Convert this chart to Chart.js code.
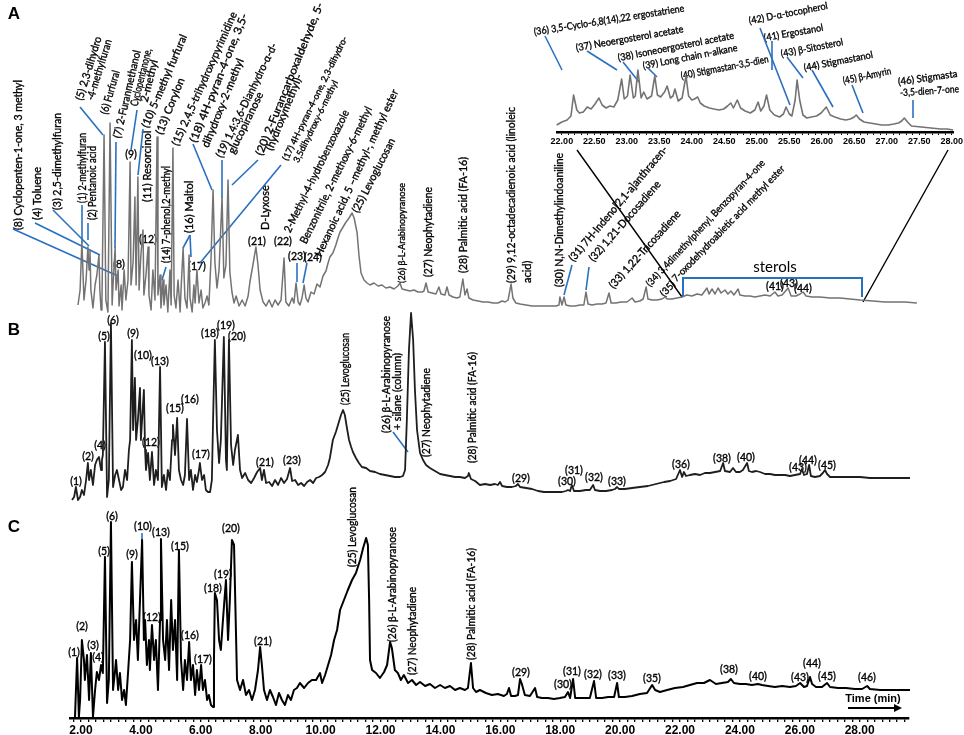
<!DOCTYPE html>
<html>
<head>
<meta charset="utf-8">
<script src="https://cdn.jsdelivr.net/npm/chart.js@4.4.1/dist/chart.umd.min.js"></script>
<style>
    html, body { margin: 0; padding: 0; background: #fff; overflow: hidden; }
    #wrap { position: relative; width: 964px; height: 735px; }
    #main { position: absolute; left: 0; top: 0; }
    #inset { position: absolute; left: 520px; top: 0; }
</style>
</head>
<body>
<div id="wrap">
    <canvas id="main" width="964" height="735"></canvas>
    <canvas id="inset" width="444" height="160"></canvas>
</div>
<script>
// chromatograms: [time (min), signal]
const traceA = [
    [1.90,13],[1.97,28],[2.03,76],[2.10,18],[2.17,38],[2.23,71],[2.27,48],[2.30,68],[2.33,28],[2.40,10],
    [2.47,33],[2.53,43],[2.60,63],[2.63,28],[2.67,8],[2.70,18],[2.77,183],[2.83,18],[2.90,6],[2.97,195],
    [3.04,13],[3.07,33],[3.14,70],[3.17,28],[3.24,48],[3.27,12],[3.34,33],[3.37,8],[3.44,48],[3.50,18],
    [3.57,38],[3.64,156],[3.67,33],[3.74,56],[3.80,121],[3.84,33],[3.90,141],[3.94,28],[4.00,63],[4.07,88],
    [4.10,23],[4.17,43],[4.24,71],[4.27,23],[4.34,8],[4.40,48],[4.47,18],[4.54,181],[4.57,23],[4.64,43],
    [4.67,10],[4.74,38],[4.77,13],[4.84,33],[4.90,6],[4.97,48],[5.01,13],[5.07,170],[5.11,23],[5.17,10],
    [5.24,38],[5.31,6],[5.34,28],[5.41,70],[5.47,20],[5.54,10],[5.61,63],[5.64,20],[5.71,6],[5.77,33],
    [5.81,15],[5.87,48],[5.94,15],[6.01,28],[6.07,10],[6.14,15],[6.21,22],[6.27,13],[6.34,58],[6.41,128],
    [6.47,56],[6.54,30],[6.61,48],[6.71,121],[6.77,40],[6.84,53],[6.91,138],[6.97,46],[7.04,26],[7.11,15],
    [7.18,22],[7.28,12],[7.38,18],[7.48,12],[7.58,22],[7.64,36],[7.74,53],[7.84,71],[7.91,53],[7.98,28],
    [8.08,16],[8.18,12],[8.28,18],[8.38,11],[8.48,18],[8.58,13],[8.68,18],[8.78,60],[8.84,16],[8.94,12],
    [9.05,20],[9.11,15],[9.18,35],[9.25,16],[9.31,13],[9.38,20],[9.45,33],[9.51,20],[9.58,16],[9.68,26],
    [9.78,24],[9.88,34],[9.98,31],[10.08,42],[10.18,47],[10.25,55],[10.31,61],[10.41,65],[10.51,73],[10.58,80],
    [10.65,86],[10.75,91],[10.85,96],[10.95,100],[11.05,105],[11.12,100],[11.22,85],[11.28,63],[11.35,45],[11.45,38],
    [11.55,35],[11.65,33],[11.78,35],[11.92,32],[12.05,33],[12.18,30],[12.32,31],[12.45,29],[12.58,32],[12.65,35],
    [12.72,29],[12.85,28],[12.98,27],[13.12,28],[13.25,26],[13.39,26],[13.45,27],[13.52,35],[13.59,26],[13.72,25],
    [13.85,24],[13.95,31],[14.02,24],[14.15,23],[14.22,31],[14.29,23],[14.42,21],[14.55,20],[14.65,21],[14.75,39],
    [14.82,23],[14.89,29],[14.95,20],[15.09,18],[15.26,17],[15.42,16],[15.59,16],[15.76,15],[15.92,15],[16.06,17],
    [16.16,16],[16.26,18],[16.36,34],[16.42,20],[16.52,15],[16.66,14],[16.86,13],[17.06,12],[17.26,12],[17.46,12],
    [17.66,12],[17.86,12],[17.96,13],[17.99,21],[18.06,13],[18.13,21],[18.19,13],[18.33,12],[18.50,12],[18.66,13],
    [18.79,13],[18.86,26],[18.93,14],[19.06,13],[19.23,14],[19.40,14],[19.53,15],[19.63,25],[19.70,15],[19.86,15],
    [20.03,16],[20.23,16],[20.40,20],[20.50,16],[20.66,17],[20.77,19],[20.87,31],[20.93,19],[21.07,18],[21.23,18],
    [21.40,19],[21.50,21],[21.57,19],[21.73,19],[21.90,20],[22.07,21],[22.23,23],[22.40,22],[22.57,24],[22.73,23],
    [22.90,30],[22.97,24],[23.07,29],[23.17,24],[23.27,30],[23.37,25],[23.50,28],[23.60,24],[23.70,27],[23.80,23],
    [23.94,29],[24.00,23],[24.17,22],[24.34,22],[24.50,21],[24.67,22],[24.84,23],[25.01,22],[25.17,26],[25.27,22],
    [25.41,23],[25.61,30],[25.71,22],[25.87,22],[26.01,24],[26.11,26],[26.21,22],[26.41,21],[26.67,21],[27.01,20],
    [27.34,20],[27.68,19],[28.01,18],[28.44,17],[28.84,16],[29.18,16],[29.51,16],[29.91,15]
];

const traceB = [
    [1.70,5],[1.77,8],[1.83,18],[1.90,5],[1.97,8],[2.03,15],[2.10,10],[2.17,25],[2.23,42],[2.27,25],
    [2.33,35],[2.40,20],[2.47,40],[2.53,45],[2.60,48],[2.67,35],[2.70,45],[2.73,50],[2.80,163],[2.87,8],
    [2.93,25],[3.00,182],[3.07,18],[3.14,30],[3.20,35],[3.27,25],[3.34,15],[3.40,18],[3.47,35],[3.54,25],
    [3.60,55],[3.64,65],[3.70,165],[3.74,75],[3.80,127],[3.84,65],[3.90,85],[3.97,117],[4.00,65],[4.04,85],
    [4.10,115],[4.14,55],[4.17,35],[4.24,52],[4.30,25],[4.37,53],[4.44,20],[4.50,35],[4.57,25],[4.64,138],
    [4.70,18],[4.77,30],[4.84,15],[4.90,35],[4.97,25],[5.04,65],[5.07,80],[5.14,50],[5.21,87],[5.27,35],
    [5.34,25],[5.41,20],[5.47,30],[5.54,86],[5.61,25],[5.67,35],[5.74,15],[5.81,30],[5.87,23],[5.94,35],
    [5.97,42],[6.04,25],[6.11,30],[6.17,15],[6.24,13],[6.31,13],[6.37,25],[6.41,85],[6.47,165],[6.54,75],
    [6.61,42],[6.67,65],[6.77,168],[6.84,45],[6.87,35],[6.94,165],[7.01,60],[7.08,40],[7.14,55],[7.24,70],
    [7.31,35],[7.38,27],[7.48,32],[7.58,25],[7.68,22],[7.78,27],[7.88,33],[7.98,37],[8.04,25],[8.11,35],
    [8.18,22],[8.28,23],[8.38,19],[8.48,25],[8.58,20],[8.68,27],[8.78,22],[8.88,26],[8.98,37],[9.05,24],
    [9.15,25],[9.25,20],[9.35,22],[9.45,19],[9.55,23],[9.65,25],[9.75,22],[9.85,27],[9.95,28],[10.05,30],
    [10.15,33],[10.25,40],[10.31,47],[10.41,65],[10.51,73],[10.61,83],[10.68,90],[10.75,95],[10.81,90],[10.88,77],
    [10.95,65],[11.02,58],[11.08,53],[11.18,47],[11.28,42],[11.38,38],[11.52,37],[11.65,34],[11.82,33],[11.98,31],
    [12.15,30],[12.32,29],[12.48,28],[12.65,28],[12.75,29],[12.82,35],[12.88,85],[12.95,155],[13.02,192],[13.09,165],
    [13.15,115],[13.22,75],[13.32,52],[13.42,45],[13.52,40],[13.65,37],[13.82,34],[13.99,31],[14.15,30],[14.32,29],
    [14.49,28],[14.65,28],[14.82,27],[14.92,29],[14.95,32],[15.02,26],[15.16,24],[15.32,20],[15.49,21],[15.66,20],
    [15.82,21],[15.92,20],[15.99,23],[16.06,19],[16.22,18],[16.39,18],[16.52,19],[16.59,21],[16.66,18],[16.86,17],
    [17.06,16],[17.26,14],[17.46,13],[17.66,13],[17.86,13],[18.06,13],[18.19,14],[18.26,15],[18.33,14],[18.39,20],
    [18.46,14],[18.66,14],[18.86,15],[18.99,15],[19.10,20],[19.16,15],[19.33,14],[19.53,14],[19.73,15],[19.83,16],
    [19.90,18],[19.96,16],[20.16,16],[20.40,17],[20.66,18],[20.93,19],[21.20,21],[21.47,23],[21.67,24],[21.87,26],
    [22.00,35],[22.07,28],[22.13,33],[22.20,29],[22.33,30],[22.50,31],[22.67,30],[22.83,32],[23.00,32],[23.17,33],
    [23.34,34],[23.44,42],[23.50,34],[23.67,33],[23.77,37],[23.87,33],[24.00,33],[24.10,35],[24.24,42],[24.30,34],
    [24.40,33],[24.54,34],[24.67,33],[24.84,31],[25.01,31],[25.17,30],[25.34,30],[25.51,30],[25.67,29],[25.84,30],
    [26.01,31],[26.07,36],[26.14,30],[26.24,31],[26.31,40],[26.37,29],[26.51,28],[26.67,29],[26.77,32],[26.84,35],
    [26.91,31],[27.01,28],[27.34,28],[27.68,28],[28.01,28],[28.34,27],[28.68,27],[29.01,27],[29.35,27],[29.68,27],
    [29.85,27]
];

const traceC = [
    [1.80,1],[1.87,60],[1.93,1],[1.97,18],[2.03,78],[2.10,58],[2.13,38],[2.20,63],[2.27,18],[2.33,65],
    [2.40,1],[2.47,28],[2.53,46],[2.60,38],[2.67,53],[2.73,45],[2.80,161],[2.87,15],[2.93,38],[3.00,196],
    [3.07,28],[3.14,48],[3.17,58],[3.24,28],[3.30,45],[3.37,18],[3.44,28],[3.50,13],[3.57,45],[3.64,78],
    [3.70,156],[3.77,78],[3.84,98],[3.90,58],[3.97,118],[4.04,178],[4.10,78],[4.14,98],[4.20,53],[4.27,78],
    [4.30,48],[4.37,93],[4.44,58],[4.50,78],[4.57,28],[4.64,98],[4.67,179],[4.74,78],[4.81,58],[4.87,98],
    [4.94,48],[5.01,118],[5.07,68],[5.14,98],[5.21,38],[5.27,168],[5.34,58],[5.41,28],[5.47,58],[5.54,38],
    [5.61,76],[5.67,38],[5.74,53],[5.81,23],[5.87,48],[5.94,28],[6.01,53],[6.07,28],[6.14,38],[6.21,18],
    [6.27,23],[6.34,13],[6.41,11],[6.44,58],[6.47,125],[6.54,118],[6.61,78],[6.67,68],[6.74,98],[6.84,138],
    [6.91,78],[6.97,118],[7.04,178],[7.11,173],[7.18,78],[7.21,38],[7.31,28],[7.41,38],[7.51,23],[7.61,28],
    [7.71,18],[7.81,28],[7.91,48],[7.98,71],[8.04,53],[8.11,28],[8.21,18],[8.31,28],[8.41,21],[8.51,13],
    [8.61,25],[8.71,18],[8.81,13],[8.91,23],[9.01,18],[9.11,28],[9.21,30],[9.31,35],[9.45,30],[9.58,35],
    [9.71,38],[9.85,38],[9.98,45],[10.05,35],[10.15,43],[10.25,53],[10.35,63],[10.45,78],[10.55,88],[10.65,108],
    [10.78,118],[10.91,128],[11.05,138],[11.18,145],[11.32,158],[11.42,170],[11.52,180],[11.58,173],[11.62,118],[11.65,58],
    [11.72,48],[11.85,45],[11.98,40],[12.12,46],[12.22,53],[12.32,76],[12.38,70],[12.48,48],[12.58,45],[12.68,38],
    [12.78,43],[12.92,35],[13.05,38],[13.19,33],[13.32,36],[13.49,32],[13.65,34],[13.82,30],[13.99,33],[14.15,30],
    [14.32,32],[14.49,28],[14.65,30],[14.82,28],[14.92,30],[15.02,55],[15.09,30],[15.19,26],[15.32,28],[15.52,25],
    [15.72,23],[15.92,24],[16.12,22],[16.22,24],[16.29,30],[16.36,22],[16.49,22],[16.59,23],[16.66,39],[16.72,34],
    [16.82,23],[16.99,22],[17.16,30],[17.23,21],[17.39,20],[17.59,20],[17.79,19],[17.99,20],[18.16,21],[18.26,26],
    [18.33,20],[18.43,39],[18.50,20],[18.66,20],[18.86,20],[18.99,20],[19.13,37],[19.20,20],[19.40,20],[19.60,21],
    [19.80,21],[19.90,35],[19.96,21],[20.16,21],[20.40,22],[20.66,24],[20.90,25],[21.07,33],[21.17,28],[21.33,26],
    [21.57,28],[21.83,30],[22.10,31],[22.33,33],[22.57,35],[22.80,35],[23.00,38],[23.20,34],[23.40,35],[23.60,36],
    [23.70,39],[23.80,35],[24.00,34],[24.20,34],[24.40,33],[24.60,34],[24.74,33],[24.94,32],[25.17,31],[25.41,32],
    [25.67,31],[25.87,32],[26.01,35],[26.14,31],[26.24,32],[26.34,41],[26.41,34],[26.54,31],[26.74,31],[26.91,35],
    [27.01,31],[27.28,30],[27.54,30],[27.84,29],[28.08,29],[28.25,32],[28.34,29],[28.68,28],[29.01,28],[29.35,28],
    [29.68,28],[29.85,28]
];

// enlarged sterol region of A
const traceInset = [
    [21.92,7],[22.00,10],[22.08,12],[22.14,16],[22.18,37],[22.23,22],[22.27,19],[22.33,20],[22.39,25],[22.45,23],
    [22.51,28],[22.57,34],[22.62,27],[22.68,24],[22.74,26],[22.80,25],[22.86,32],[22.92,53],[22.96,33],[23.01,36],
    [23.05,57],[23.10,34],[23.13,36],[23.17,62],[23.22,34],[23.26,40],[23.31,33],[23.38,36],[23.43,56],[23.47,37],
    [23.52,35],[23.58,40],[23.62,46],[23.67,34],[23.71,36],[23.74,43],[23.79,31],[23.85,34],[23.91,56],[23.95,36],
    [24.00,32],[24.04,33],[24.09,35],[24.13,29],[24.19,26],[24.27,24],[24.34,23],[24.42,22],[24.49,23],[24.55,26],
    [24.60,29],[24.64,24],[24.70,32],[24.75,24],[24.82,21],[24.90,19],[24.97,22],[25.02,30],[25.06,21],[25.11,26],
    [25.15,37],[25.20,22],[25.27,17],[25.35,15],[25.41,18],[25.45,25],[25.50,18],[25.54,16],[25.59,32],[25.62,52],
    [25.66,32],[25.71,17],[25.77,14],[25.84,15],[25.92,16],[25.99,19],[26.07,25],[26.13,17],[26.20,15],[26.29,13],
    [26.37,12],[26.44,13],[26.50,15],[26.53,17],[26.58,13],[26.65,10],[26.74,9],[26.83,8],[26.92,7],[27.02,7],
    [27.11,8],[27.18,9],[27.23,11],[27.27,14],[27.32,10],[27.38,6],[27.53,5],[27.68,4],[27.83,3],[27.93,3],
    [28.02,2]
];

// peak labels: [text, x, y, angle, font size, stretched length]
const namesA = [
    ["(8) Cyclopenten-1-one, 3 methyl", 18, 230, 90, 11, 150],
    ["(4) Toluene", 37, 220, 90, 11, 0],
    ["(3) 2,5-dimethylfuran", 57, 210, 90, 11, 97],
    ["(1) 2-methylfuran", 82, 203, 90, 11, 70],
    ["(2) Pentanoic acid", 92, 220, 90, 11, 74],
    ["(5) 2,3-dihydro", 79, 100, 73, 11, 66],
    ["-4-methylfuran", 90, 100, 73, 11, 63],
    ["(6) Furfural", 104, 114, 74, 11, 45],
    ["(7) 2-Furanmethanol", 117, 138, 77, 11, 90],
    ["Cyclopentanone,", 134, 106, 76, 11, 59],
    ["2-methyl", 144, 102, 76, 11, 0],
    ["(10) 5-methyl furfural", 145, 127, 67, 11, 100],
    ["(13) Corylon", 159, 134, 68, 11, 60],
    ["(11) Resorcinol", 147, 202, 90, 11, 0],
    ["(14) 7-phenol,2-methyl", 166, 263, 90, 11, 97],
    ["(15) 2,4,5-trihydroxypyrimidine", 175, 145, 66, 11, 145],
    ["(16) Maltol", 189, 233, 90, 11, 0],
    ["(18) 4H-pyran-4-one, 3,5-", 193, 142, 68, 11, 138],
    ["dihydroxy-2-methyl", 205, 147, 68, 11, 0],
    ["(19) 1,4:3,6-Dianhydro-α-d-", 219, 157, 64, 11, 126],
    ["glucopiranose", 231, 153, 64, 11, 0],
    ["(20) 2-Furancarboxaldehyde, 5-", 259, 155, 68, 11, 164],
    ["(hydroxymethyl)-", 269, 150, 68, 11, 0],
    ["(17) 4H-pyran-4-one, 2,3-dihydro-", 285, 160, 64, 9, 137],
    ["3,5dihydroxy-6-methyl", 296, 162, 64, 9, 0],
    ["D-Lyxose", 265, 230, 90, 11, 0],
    ["2-Methyl-4-hydrobenzoxazole", 287, 232, 64, 11, 135],
    ["Benzonitrile, 2-methoxy-6-methyl", 303, 243, 64, 11, 151],
    ["Hexanoic acid, 5 –methyl-, methyl ester", 318, 256, 65, 11, 183],
    ["(25) Levoglucosan", 355, 212, 63, 11, 82],
    ["(26) β-L-Arabinopyranose", 402, 283, 90, 9, 100],
    ["(27) Neophytadiene", 428, 277, 90, 11, 90],
    ["(28) Palmitic acid (FA-16)", 463, 273, 90, 11, 116],
    ["(29) 9,12-octadecadienoic acid (linoleic", 511, 283, 90, 11, 176],
    ["acid)", 527, 283, 90, 11, 0],
    ["(30) N,N-Dimethylindoaniline", 559, 287, 90, 11, 134],
    ["(31) 7H-Indeno[2,1-a]anthracen-", 571, 260, 50, 11, 147],
    ["(32) 1,21-Docosadiene", 591, 260, 49, 11, 103],
    ["(33) 1,22-Tricosadiene", 611, 287, 48, 11, 101],
    ["(34) 3,4dimethylphenyl, Benzopyran-4-one", 648, 285, 47, 10, 169],
    ["(35)", 662, 295, 47, 10, 0],
    ["7-oxodehydroabietic acid methyl ester", 674, 280, 46, 10, 157]
];

const namesInset = [
    ["(36) 3,5-Cyclo-6,8(14),22 ergostatriene", 534, 32, 9, 10, 152],
    ["(37) Neoergosterol acetate", 576, 48, 10, 10, 109],
    ["(38) Isoneoergosterol acetate", 618, 58, 11, 10, 118],
    ["(39) Long chain n-alkane", 643, 66, 11, 10, 96],
    ["(40) Stigmastan-3,5-dien", 681, 76, 11, 10, 89],
    ["(42) D-α-tocopherol", 749, 21, 11, 10, 80],
    ["(41) Ergostanol", 764, 38, 10, 10, 60],
    ["(43) β-Sitosterol", 781, 54, 11, 10, 63],
    ["(44) Stigmastanol", 804, 68, 11, 10, 70],
    ["(45) β-Amyrin", 843, 81, 12, 10, 49],
    ["(46) Stigmasta", 898, 82, 8, 10, 60],
    ["-3,5-dien-7-one", 900, 93, 4, 10, 59]
];

const namesBC = [
    ["(25) Levoglucosan", 345, 405, 90, 11, 72],
    ["(26) β-L-Arabinopyranose", 386, 433, 90, 11, 117],
    ["+ silane (column)", 397, 430, 90, 11, 77],
    ["(27) Neophytadiene", 426, 457, 90, 11, 89],
    ["(28) Palmitic acid (FA-16)", 472, 463, 90, 11, 111],
    ["(25) Levoglucosan", 352, 567, 90, 11, 80],
    ["(26) β-L-Arabinopyranose", 392, 642, 90, 11, 115],
    ["(27) Neophytadiene", 412, 675, 90, 11, 88],
    ["(28) Palmitic acid (FA-16)", 471, 660, 90, 11, 112]
];

// short peak numbers [text, centre x, centre y]
const tagsA = [
    ["(9)",131,155],["(12)",148,240],["(17)",197,267],["(8)",119,265],["(21)",257,242],["(22)",283,242],
    ["(23)",297,257],["(24)",313,258],["(41)",775,287],["(43)",789,284],["(44)",803,289]
];
const tagsB = [
    ["(1)",76,482],["(2)",88,457],["(4)",100,446],["(5)",104,337],["(6)",113,321],["(9)",133,334],
    ["(10)",143,356],["(13)",160,362],["(12)",151,443],["(15)",175,409],["(16)",190,400],["(17)",201,455],
    ["(18)",210,334],["(19)",226,326],["(20)",237,337],["(21)",265,463],["(23)",292,461],["(29)",521,479],
    ["(30)",567,482],["(31)",574,471],["(32)",594,478],["(33)",617,482],["(36)",681,465],["(38)",722,459],
    ["(40)",746,458],["(43)",798,468],["(44)",808,461],["(45)",827,466]
];
const tagsC = [
    ["(1)",74,653],["(2)",82,627],["(3)",93,646],["(4)",98,658],["(5)",104,552],["(6)",112,517],
    ["(9)",132,555],["(10)",143,527],["(13)",161,533],["(12)",152,618],["(15)",180,547],["(16)",190,636],
    ["(17)",203,660],["(18)",213,589],["(19)",223,575],["(20)",231,529],["(21)",263,642],["(29)",521,673],
    ["(30)",563,685],["(31)",572,672],["(32)",593,675],["(33)",617,676],["(35)",652,679],["(38)",729,670],
    ["(40)",758,677],["(43)",800,678],["(44)",812,664],["(45)",827,677],["(46)",867,678]
];

// blue leader lines [x1, y1, x2, y2]
const leaders = [
    [13,229,118,276],[35,223,100,255],[53,210,89,246],[82,205,82,243],[88,223,88,240],[80,107,103,135],
    [116,142,115,248],[137,110,131,150],[143,129,138,175],[166,267,162,280],[190,235,183,248],[190,235,191,257],
    [193,144,212,190],[222,160,222,198],[258,160,232,185],[281,165,200,263],[297,263,297,282],[307,263,303,283],
    [572,265,564,295],[589,267,586,290],
    [545,36,562,70],[587,51,617,70],[623,62,639,82],[648,68,657,77],[760,28,790,105],[772,41,772,70],
    [787,57,803,78],[812,70,833,107],[852,85,863,113],[913,100,913,118],
    [393,432,408,452],[142,533,142,552]
];

const LABEL_FONT = 'Lato, "Open Sans", sans-serif';
const BLUE = '#2a70c0';

// regular face with a hairline stroke, to get the darker look of the figure text
function inkText(ctx, text) {
    ctx.fillText(text, 0, 0);
    ctx.strokeText(text, 0, 0);
}

function drawNames(ctx, list) {
    list.forEach(([text, x, y, angle, size, len]) => {
        ctx.save();
        ctx.font = size + 'px ' + LABEL_FONT;
        ctx.fillStyle = '#000';
        ctx.strokeStyle = '#000';
        ctx.lineWidth = 0.35;
        ctx.textBaseline = 'middle';
        ctx.translate(x, y);
        if (angle) {
            ctx.rotate(-angle * Math.PI / 180);
            ctx.textAlign = 'left';
        } else {
            ctx.textAlign = 'center';
        }
        if (len) {
            ctx.scale(len / ctx.measureText(text).width, 1);
        }
        inkText(ctx, text);
        ctx.restore();
    });
}

function drawTags(ctx, list) {
    list.forEach(([text, x, y]) => {
        ctx.save();
        ctx.font = '10.5px ' + LABEL_FONT;
        ctx.fillStyle = '#000';
        ctx.strokeStyle = '#000';
        ctx.lineWidth = 0.35;
        ctx.textAlign = 'center';
        ctx.textBaseline = 'middle';
        ctx.translate(x, y);
        inkText(ctx, text);
        ctx.restore();
    });
}

const annotationPlugin = {
    id: 'annotations',
    beforeDatasetsDraw(chart) {
        const ctx = chart.ctx;
        drawNames(ctx, namesA);
        drawNames(ctx, namesInset);
        drawNames(ctx, namesBC);
        drawTags(ctx, tagsA);
        drawTags(ctx, tagsB);
        drawTags(ctx, tagsC);

        ctx.save();
        ctx.fillStyle = '#000';
        ctx.font = '15px ' + LABEL_FONT;
        ctx.textAlign = 'center';
        ctx.textBaseline = 'middle';
        ctx.fillText('sterols', 775, 267);

        ctx.strokeStyle = BLUE;
        ctx.lineWidth = 1.6;
        leaders.forEach(([x1, y1, x2, y2]) => {
            ctx.beginPath();
            ctx.moveTo(x1, y1);
            ctx.lineTo(x2, y2);
            ctx.stroke();
        });

        // sterols bracket
        ctx.lineWidth = 2;
        ctx.beginPath();
        ctx.moveTo(683, 297);
        ctx.lineTo(683, 278);
        ctx.lineTo(862, 278);
        ctx.lineTo(862, 297);
        ctx.stroke();

        // zoom lines to the inset
        ctx.strokeStyle = '#000';
        ctx.lineWidth = 1.4;
        ctx.beginPath();
        ctx.moveTo(577, 150);
        ctx.lineTo(682, 297);
        ctx.moveTo(948, 150);
        ctx.lineTo(863, 302);
        ctx.stroke();

        // panel letters
        ctx.font = 'bold 17px "Liberation Sans", Arial, sans-serif';
        ctx.fillText('A', 14, 14);
        ctx.fillText('B', 14, 330);
        ctx.fillText('C', 14, 527);

        // time arrow
        ctx.font = 'bold 11px "Liberation Sans", Arial, sans-serif';
        ctx.fillText('Time (min)', 873, 699);
        ctx.lineWidth = 2;
        ctx.beginPath();
        ctx.moveTo(848, 708);
        ctx.lineTo(895, 708);
        ctx.stroke();
        ctx.beginPath();
        ctx.moveTo(902, 708);
        ctx.lineTo(894, 704);
        ctx.lineTo(894, 712);
        ctx.closePath();
        ctx.fill();
        ctx.restore();
    }
};

function toPoints(trace) {
    return trace.map(([x, y]) => ({ x: x, y: y }));
}

const lineStyle = {
    pointRadius: 0,
    tension: 0,
    fill: false,
    clip: false,
    borderJoinStyle: 'round'
};

const mainConfig = {
    type: 'line',
    data: {
        datasets: [
            { ...lineStyle, label: 'A', data: toPoints(traceA), yAxisID: 'yA', borderColor: '#737373', borderWidth: 1.5 },
            { ...lineStyle, label: 'B', data: toPoints(traceB), yAxisID: 'yB', borderColor: '#1e1e1e', borderWidth: 1.8 },
            { ...lineStyle, label: 'C', data: toPoints(traceC), yAxisID: 'yC', borderColor: '#000000', borderWidth: 2 }
        ]
    },
    options: {
        responsive: false,
        animation: false,
        events: [],
        layout: { padding: { left: 70, right: 55, top: 0, bottom: 0 } },
        scales: {
            x: {
                type: 'linear',
                position: 'bottom',
                min: 1.633,
                max: 29.646,
                afterFit: (scale) => { scale.height = 17; },
                border: { display: true, color: '#000', width: 2.5 },
                grid: { drawOnChartArea: false, drawTicks: true, tickLength: 4, color: '#000', lineWidth: 1.3 },
                ticks: {
                    stepSize: 0.25,
                    autoSkip: false,
                    maxRotation: 0,
                    includeBounds: false,
                    padding: 1,
                    color: '#000',
                    font: { family: '"Liberation Sans", Arial, sans-serif', size: 12, weight: 'bold' },
                    callback: (v) => (Math.abs(v / 2 - Math.round(v / 2)) < 1e-6 ? v.toFixed(2) : '')
                }
            },
            yA: { display: false, min: -400, max: 318 },
            yB: { display: false, min: -213, max: 505 },
            yC: { display: false, min: 0, max: 718 }
        },
        plugins: {
            legend: { display: false },
            tooltip: { enabled: false },
            title: { display: false }
        }
    },
    plugins: [annotationPlugin]
};

const insetConfig = {
    type: 'line',
    data: {
        datasets: [
            { ...lineStyle, label: 'sterols', data: toPoints(traceInset), borderColor: '#737373', borderWidth: 1.6 }
        ]
    },
    options: {
        responsive: false,
        animation: false,
        events: [],
        layout: { padding: { left: 37, right: 1, top: 0, bottom: 0 } },
        scales: {
            x: {
                type: 'linear',
                min: 21.925,
                max: 28.02,
                afterFit: (scale) => { scale.height = 28; },
                border: { display: true, color: '#000', width: 2.5 },
                grid: { drawOnChartArea: false, drawTicks: true, tickLength: 3, color: '#000', lineWidth: 1 },
                ticks: {
                    stepSize: 0.1,
                    autoSkip: false,
                    maxRotation: 0,
                    includeBounds: false,
                    padding: 1,
                    color: '#000',
                    font: { family: '"Liberation Sans", Arial, sans-serif', size: 9, weight: 'bold' },
                    callback: (v) => (Math.abs(v * 2 - Math.round(v * 2)) < 1e-6 ? v.toFixed(2) : '')
                }
            },
            y: { display: false, min: 0, max: 132 }
        },
        plugins: {
            legend: { display: false },
            tooltip: { enabled: false }
        }
    }
};

new Chart(document.getElementById('main').getContext('2d'), mainConfig);
new Chart(document.getElementById('inset').getContext('2d'), insetConfig);
</script>
</body>
</html>
